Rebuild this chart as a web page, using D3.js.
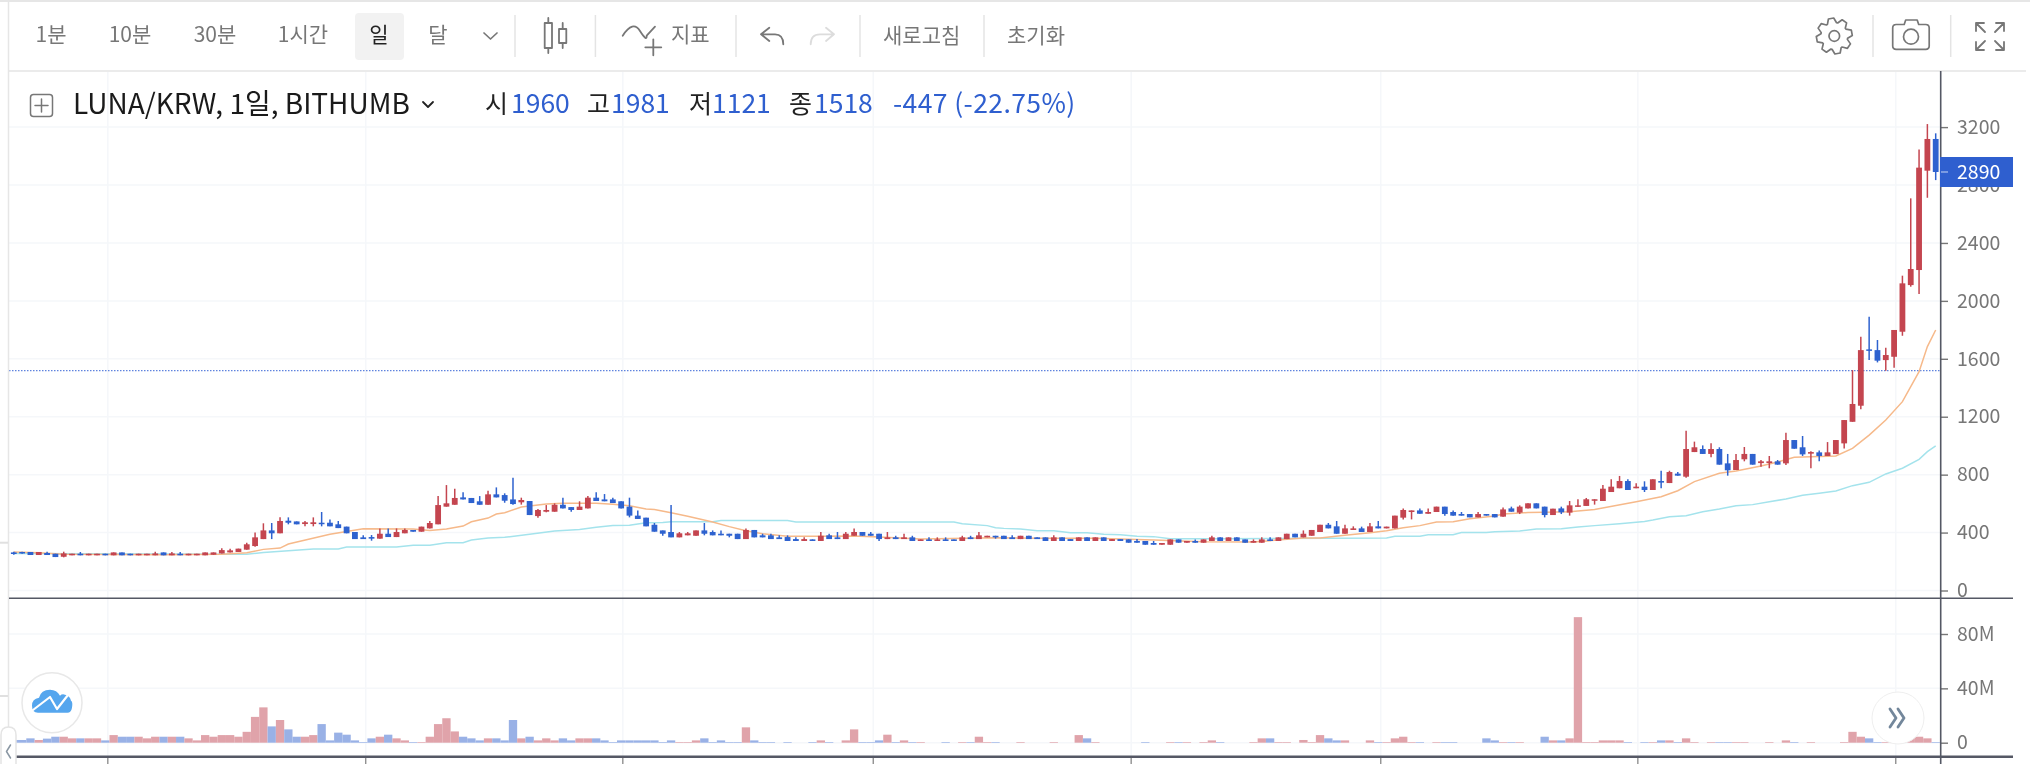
<!DOCTYPE html>
<html>
<head>
<meta charset="utf-8">
<style>
  html, body { margin: 0; padding: 0; background: #fff; overflow: hidden; }
  svg { display: block; font-family: "Noto Sans CJK KR", "Noto Sans", sans-serif; filter: blur(0.4px); }
</style>
<script src="https://cdn.jsdelivr.net/npm/d3@7/dist/d3.min.js"></script>
</head>
<body>
<div id="chart"></div>
<script>
// daily candles
const opens = [263,266,266,245,259,254,233,243,254,243,
  243,254,243,263,254,243,243,243,263,243,
  254,243,243,243,247,256,263,266,282,307,
  355,415,395,482,477,459,459,468,468,457,
  441,404,367,369,358,392,369,395,418,406,
  429,457,579,592,643,639,616,592,664,659,
  629,609,618,514,544,544,592,576,556,567,
  641,629,629,616,579,517,503,454,415,404,
  367,381,378,415,404,392,392,392,355,418,
  381,381,367,369,355,342,353,342,381,367,
  355,378,404,392,392,355,367,355,367,342,
  353,342,353,353,342,367,355,367,378,378,
  367,355,378,367,367,342,367,355,342,367,
  342,367,342,355,353,342,342,328,316,316,
  353,330,342,330,342,367,342,367,353,330,
  330,353,342,355,392,367,378,404,454,443,
  392,418,429,404,443,429,429,503,542,553,
  530,542,579,542,528,528,505,528,528,510,
  567,538,567,602,579,521,567,538,579,584,
  620,618,680,706,756,706,717,694,756,742,
  807,786,956,977,943,977,878,832,906,943,
  880,880,892,878,1039,989,945,954,929,942,
  1016,1165,1276,1665,1660,1591,1614,1787,2109,2213,
  2899,3118];
const highs = [268,268,266,266,268,254,268,254,266,254,
  254,254,263,263,254,254,254,268,263,266,
  266,254,254,263,263,291,289,289,330,401,
  464,466,505,505,477,480,505,542,491,480,
  441,404,381,383,429,429,429,429,418,441,
  480,652,728,703,678,639,652,689,712,671,
  779,641,618,563,590,602,641,576,616,652,
  678,666,641,616,641,553,503,466,415,590,
  404,404,415,466,415,415,392,392,429,418,
  392,392,381,381,367,367,353,404,392,404,
  404,429,404,404,392,404,378,392,378,353,
  367,367,367,353,378,378,404,378,378,378,
  381,378,378,367,367,381,367,355,367,367,
  367,367,355,355,353,355,342,342,328,353,
  353,342,353,353,378,367,367,367,353,353,
  367,367,367,392,392,415,418,454,466,480,
  454,443,441,466,480,441,517,567,553,567,
  567,579,579,553,542,528,542,528,528,574,
  579,588,602,602,579,565,579,618,630,639,
  630,729,768,791,768,740,754,768,827,827,
  818,1104,1028,1002,1016,989,943,943,991,943,
  901,929,901,1090,1039,1067,961,966,1025,1039,
  1177,1522,1753,1891,1730,1677,1799,2174,2708,3046,
  3221,3157];
const lows = [247,254,245,245,245,231,229,243,243,243,
  243,243,243,243,243,243,243,243,243,243,
  243,243,243,243,247,256,263,266,282,302,
  355,355,395,457,457,443,443,443,443,431,
  395,355,355,344,358,369,369,395,406,406,
  429,457,579,592,629,604,592,592,643,606,
  593,593,521,503,540,544,567,544,556,567,
  618,616,604,567,505,494,443,406,378,367,
  367,381,378,381,381,381,367,355,355,367,
  367,355,355,342,342,342,342,342,355,355,
  355,378,378,378,342,355,355,355,342,342,
  342,342,342,342,342,355,355,367,358,355,
  355,355,355,355,342,342,342,342,342,342,
  342,342,342,342,330,330,316,316,316,316,
  330,330,330,330,342,342,342,342,330,330,
  330,342,342,355,367,367,378,404,429,392,
  392,418,404,404,429,429,429,491,491,530,
  530,542,517,517,517,505,505,517,505,510,
  544,528,567,567,505,521,528,517,579,584,
  593,618,680,706,694,706,680,694,706,742,
  793,779,956,943,920,869,793,832,892,869,
  855,844,869,867,979,929,844,892,929,942,
  981,1165,1251,1591,1575,1518,1538,1759,2098,2047,
  2712,2834];
const closes = [252,256,245,266,245,231,256,254,243,254,
  254,243,263,243,243,254,254,256,243,256,
  243,254,254,263,263,279,277,289,319,367,
  415,395,480,468,457,471,471,459,443,431,
  395,355,355,358,392,369,404,418,406,441,
  466,590,602,639,629,604,592,664,643,620,
  597,625,521,556,556,592,567,556,579,641,
  618,616,604,567,517,494,443,406,392,367,
  395,395,415,392,381,381,378,355,418,367,
  367,355,355,342,342,355,342,378,355,355,
  392,404,378,378,355,367,355,367,342,353,
  342,353,342,342,367,355,381,378,367,355,
  355,378,355,355,342,367,342,342,367,342,
  367,342,355,342,330,330,316,316,328,353,
  330,342,330,353,367,342,367,342,330,342,
  353,342,367,392,367,392,418,454,429,392,
  429,429,404,443,429,441,517,556,553,530,
  542,579,528,517,517,505,528,517,505,560,
  544,579,602,567,521,565,540,588,588,630,
  630,703,717,756,694,717,694,768,745,818,
  793,977,989,943,977,869,830,901,943,869,
  892,892,869,1039,979,940,956,929,954,1039,
  1177,1288,1660,1656,1587,1626,1799,2121,2220,2920,
  3118,2890];
// volume in millions
const volumes = [2,2,3.2,2,3,4.4,4.4,3.2,3.2,3.2,
  3.2,1.7,5.6,4.4,4.4,4.4,3.2,4.4,4.4,4.4,
  4.4,3.2,1.7,5.6,4.4,5.6,5.6,4.4,8,19,
  26,12,16.7,9.8,4.4,4.4,5.6,13.7,1.7,7.4,
  5.9,1.7,.5,3.2,4.4,5.9,3.2,1.7,.5,.5,
  4.4,13.7,18,8.3,4.4,3.2,1.7,3.2,3.2,1.7,
  16.7,3.2,4.4,1.7,3.2,1.7,3.2,1.7,3.2,3.2,
  3.2,1.7,.5,1.7,1.7,1.7,1.7,1.7,.5,1.7,
  .5,.5,1.7,3.2,.5,1.7,.5,.5,11.3,1.7,
  .5,.5,0,.5,0,0,.5,1.7,.5,0,
  1.7,9.8,.5,.5,1.7,5.9,.5,1.7,.5,.5,
  0,0,.5,0,.5,.5,4.4,.5,.5,0,
  0,.5,0,0,0,.5,0,0,5.6,3.2,
  .5,0,0,0,0,0,.5,0,0,.5,
  .5,.5,0,.5,1.7,.5,0,0,0,.5,
  3.2,3.2,.5,.5,0,2,.5,5.6,3.2,1.7,
  1.7,0,0,1.7,.5,.5,3.2,4.4,.5,.5,
  0,.5,.5,.5,0,0,0,3.2,1.7,.5,
  .5,.5,0,0,4.4,1.7,1.7,3.2,92.4,.5,
  .5,1.7,1.7,1.7,.5,0,.5,.5,1.7,1.7,
  .5,3.2,.5,0,.5,.5,.5,.5,.5,0,
  0,.5,0,1.7,.5,0,.5,0,0,0,
  .5,8,4.4,3.2,.5,.5,.5,1.7,4.4,4.4,
  3.2,.5];

// moving averages, sampled where the line bends
const maShortDays = [0,3,6,18,25,28,30,32,33,38,42,48,50,52,54,55,57,58,59,61,64,66,70,72,74,76,77,79,81,84,86,88,90,93,97,101,104,109,118,123,130,137,143,149,155,157,160,163,165,167,169,171,173,175,178,179,182,184,187,190,195,198,200,202,205,207,210,212,214,216,219,221,223,225,227,229,230,231];
const maShortVals = [266,261,250,247,250,261,284,293,321,388,427,424,415,424,445,475,500,528,537,576,597,602,602,595,586,563,560,537,512,473,441,413,392,374,374,376,369,355,365,360,360,348,337,335,362,362,381,399,413,434,448,473,475,496,514,528,538,540,544,560,613,648,689,752,809,825,860,887,920,924,929,981,1073,1177,1304,1511,1684,1799];
const maLongDays = [0,27,28,30,33,36,39,40,46,48,50,52,54,55,57,59,62,65,68,70,72,74,76,78,79,84,85,93,94,113,114,117,118,119,121,123,125,127,129,131,133,135,137,139,145,165,166,169,170,173,174,177,178,181,183,186,188,190,193,196,197,199,201,203,205,207,209,211,213,215,217,219,221,223,225,227,229,230,231];
const maLongVals = [256,250,250,263,275,286,286,300,300,312,312,330,330,348,362,367,388,411,422,436,448,450,468,470,475,475,484,484,473,473,461,448,434,429,424,413,413,399,399,388,385,374,372,358,358,362,374,374,385,385,401,401,406,411,425,427,438,448,461,477,487,510,517,544,563,586,593,613,632,657,671,687,724,747,805,844,906,959,998];

const priceTicks = [0,400,800,1200,1600,2000,2400,2800,3200];
const volumeTicks = [0,40,80];
const monthDays = [11.3,42.3,73.2,103.3,134.3,164.3,195.2,226.2];
const lastClose = 1518;
const currentPrice = 2890;

const toolbarLabels = ["1분","10분","30분","1시간","일","달"];
const toolbarCentres = [51,130,215,303,379,438];
const legendKeys = ["시","고","저","종"];
const legendVals = ["1960","1981","1121","1518"];

const WIDTH = 2030;
const HEIGHT = 764;
const RED = "#c4454f", BLUE = "#2e62cf", RED_VOL = "#e0a3aa", BLUE_VOL = "#99b1e6";
const TXT = "#777", LINE = "#555865", GRID = "#f5f7fa";

const svg = d3.select("#chart").append("svg")
  .attr("width", WIDTH)
  .attr("height", HEIGHT);

const x = d3.scaleLinear().domain([0, opens.length - 1]).range([13.8, 1935.7]);
const y = d3.scaleLinear().domain([0, 3200]).range([590.5, 127.1]);
const yVol = d3.scaleLinear().domain([0, 80]).range([742.7, 634]);
const step = x(1) - x(0);

svg.append("defs").append("clipPath").attr("id", "plot")
  .append("rect").attr("x", 9).attr("y", 72).attr("width", 1931).attr("height", 692);

// grid
svg.selectAll(".vgrid").data(monthDays).enter().append("line")
  .attr("x1", d => x(d)).attr("x2", d => x(d))
  .attr("y1", 72).attr("y2", 757)
  .attr("stroke", GRID).attr("stroke-width", 1.5);
svg.selectAll(".hgrid").data(priceTicks).enter().append("line")
  .attr("x1", 9).attr("x2", 1940).attr("y1", d => y(d)).attr("y2", d => y(d))
  .attr("stroke", GRID).attr("stroke-width", 1.5);
svg.selectAll(".hgridv").data(volumeTicks).enter().append("line")
  .attr("x1", 9).attr("x2", 1940).attr("y1", d => yVol(d)).attr("y2", d => yVol(d))
  .attr("stroke", GRID).attr("stroke-width", 1.5);

const plot = svg.append("g").attr("clip-path", "url(#plot)");

// volume
plot.selectAll(".vol").data(volumes).enter().append("rect")
  .attr("x", (d, i) => x(i) - step / 2)
  .attr("width", step)
  .attr("y", d => yVol(d))
  .attr("height", d => yVol(0) - yVol(d))
  .attr("fill", (d, i) => closes[i] >= opens[i] ? RED_VOL : BLUE_VOL);

// last close level
plot.append("line")
  .attr("x1", 9).attr("x2", 1940).attr("y1", y(lastClose)).attr("y2", y(lastClose))
  .attr("stroke", "#5f83de").attr("stroke-width", 1.3).attr("stroke-dasharray", "1.5,1.5");

// moving averages
const maLine = d3.line().x(d => x(d[0])).y(d => y(d[1]));
plot.append("path")
  .attr("d", maLine(d3.zip(maLongDays, maLongVals)))
  .attr("fill", "none").attr("stroke", "#a4e3ec").attr("stroke-width", 1.5);
plot.append("path")
  .attr("d", maLine(d3.zip(maShortDays, maShortVals)))
  .attr("fill", "none").attr("stroke", "#f6b98a").attr("stroke-width", 1.5);

// candles
const candle = plot.selectAll(".candle").data(opens).enter().append("g")
  .attr("fill", (d, i) => closes[i] >= opens[i] ? RED : BLUE)
  .attr("stroke", (d, i) => closes[i] >= opens[i] ? RED : BLUE);
candle.append("line")
  .attr("x1", (d, i) => x(i)).attr("x2", (d, i) => x(i))
  .attr("y1", (d, i) => y(highs[i])).attr("y2", (d, i) => y(lows[i]))
  .attr("stroke-width", 1.5);
candle.append("rect")
  .attr("x", (d, i) => x(i) - 2.9)
  .attr("width", 5.8)
  .attr("y", (d, i) => y(Math.max(opens[i], closes[i])))
  .attr("height", (d, i) => Math.max(1.5, Math.abs(y(opens[i]) - y(closes[i]))))
  .attr("stroke", "none");

// axes
function styleAxis(g) {
  g.select(".domain").remove();
  g.selectAll(".tick line").attr("stroke", "#777").attr("stroke-width", 1.4);
  g.selectAll(".tick text").attr("fill", TXT).attr("font-size", 19.5)
    .attr("font-family", '"Noto Sans CJK KR", "Noto Sans", sans-serif');
}
svg.append("g").attr("transform", "translate(1941,0)")
  .call(d3.axisRight(y).tickValues(priceTicks).tickSize(7).tickPadding(9).tickFormat(d3.format("d")))
  .call(styleAxis);
svg.append("g").attr("transform", "translate(1941,0)")
  .call(d3.axisRight(yVol).tickValues(volumeTicks).tickSize(7).tickPadding(9).tickFormat(d => d ? d + "M" : "0"))
  .call(styleAxis);

// month ticks under the volume pane
svg.selectAll(".mtick").data(monthDays).enter().append("line")
  .attr("x1", d => x(d)).attr("x2", d => x(d))
  .attr("y1", 757).attr("y2", 764)
  .attr("stroke", "#888").attr("stroke-width", 1.3);

// frame
function rule(x1, y1, x2, y2, color, w) {
  svg.append("line").attr("x1", x1).attr("y1", y1).attr("x2", x2).attr("y2", y2)
    .attr("stroke", color).attr("stroke-width", w);
}
rule(0, 1, 2030, 1, "#e6e6e6", 2);
rule(8.5, 0, 8.5, 728, "#e6e6e6", 1.5);
rule(9, 71, 2026, 71, "#e4e4e4", 1.5);
rule(1940.7, 71, 1940.7, 764, LINE, 1.6);
rule(9, 598.3, 2013, 598.3, LINE, 1.4);
rule(9, 756.8, 2013, 756.8, LINE, 2.4);
rule(0, 542.7, 8, 542.7, "#e0e0e0", 2);
rule(0, 696, 8, 696, "#e0e0e0", 2);

// current price tag
svg.append("rect").attr("x", 1940).attr("y", 157).attr("width", 73).attr("height", 30).attr("fill", "#2f5fcf");
rule(1941, y(currentPrice), 1948, y(currentPrice), "#9db4ea", 1.4);
svg.append("text").attr("x", 1957).attr("y", y(currentPrice)).attr("dy", "0.34em")
  .attr("fill", "#fff").attr("font-size", 19.5).text(currentPrice);

// toolbar
svg.append("rect").attr("x", 355).attr("y", 13).attr("width", 49).attr("height", 47).attr("rx", 4).attr("fill", "#f2f2f2");
svg.selectAll(".tb").data(toolbarLabels).enter().append("text")
  .attr("x", (d, i) => toolbarCentres[i]).attr("y", 35).attr("dy", "0.35em")
  .attr("text-anchor", "middle").attr("font-size", 21)
  .attr("fill", d => d === "일" ? "#222" : TXT)
  .text(d => d);
function label(txt, px, py, size, color) {
  return svg.append("text").attr("x", px).attr("y", py).attr("dy", "0.35em")
    .attr("font-size", size).attr("fill", color).text(txt);
}
label("지표", 671, 35, 21, TXT);
label("새로고침", 883, 36, 21, TXT);
label("초기화", 1007, 36, 21, TXT);
[515, 595.4, 736, 860, 984, 1873, 1950.7].forEach(sx => rule(sx, 15, sx, 57, "#e4e4e4", 1.5));

function icon(d, color, w) {
  svg.append("path").attr("d", d).attr("fill", "none").attr("stroke", color)
    .attr("stroke-width", w || 1.7).attr("stroke-linecap", "round").attr("stroke-linejoin", "round");
}
icon("M484 33l6.5 6 6.5-6", "#777");                                   // chevron
icon("M548.3 18v5M548.3 48v5M544.7 23h7.3v25h-7.3zM562.7 23v6M562.7 43v5M559 29h7.3v14h-7.3z", "#777", 1.8); // candles
icon("M622.7 35.700Q633 20 640 31T646.700 35.700L655 26.700M645.300 47.300h16M653.300 39.300v16", "#777", 1.8);   // indicators
icon("M769.300 27.700L761 34.300l8.300 6.700M761 34.300h14q8.300 0 8.300 10", "#777", 1.8);                        // undo
icon("M826 27.700l8 6.600-8 6.700M834 34.300h-14q-9.300 0-9.300 10", "#dcdcdc", 1.8);                            // redo

// gear, built from its teeth
const gear = d3.range(8).flatMap(k => {
  const a = k * Math.PI / 4 - Math.PI / 8;
  return [[a - 0.14, 13.5], [a + 0.06, 18], [a + 0.36, 18], [a + 0.56, 13.5]];
});
icon(d3.lineRadial().angle(d => d[0]).radius(d => d[1]).curve(d3.curveLinearClosed)(gear), "#777", 1.7);
d3.select(svg.node().lastChild).attr("transform", "translate(1834.3,36)");
svg.append("circle").attr("cx", 1834.3).attr("cy", 36).attr("r", 5.3).attr("fill", "none").attr("stroke", "#777").attr("stroke-width", 1.7);
// camera
icon("M1892.700 28q0-3.500 3.500-3.500h8l1.500-4.500h11.500l1.500 4.500h7q3.500 0 3.500 3.500v18q0 3.300-3.500 3.300h-29.500q-3.500 0-3.500-3.300z", "#777", 1.7);
svg.append("circle").attr("cx", 1911).attr("cy", 36.7).attr("r", 7.5).attr("fill", "none").attr("stroke", "#777").attr("stroke-width", 1.7);
// fullscreen
icon("M1976 23h8M1976 23v8M1976 23l9 9M2004 23h-8M2004 23v8M2004 23l-9 9M1976 50h8M1976 50v-8M1976 50l9-9M2004 50h-8M2004 50v-8M2004 50l-9-9", "#777", 1.8);

// legend row
svg.append("rect").attr("x", 30.5).attr("y", 94.5).attr("width", 22).attr("height", 22).attr("rx", 3)
  .attr("fill", "none").attr("stroke", "#777").attr("stroke-width", 1.5);
icon("M35 105.500h13M41.500 99v13", "#777", 1.5);
label("LUNA/KRW, 1일, BITHUMB", 73, 104, 28, "#1a1a1a");
icon("M423 102l5 5 5-5", "#222", 1.8);
const legendKeyX = [485, 587, 689, 789];
const legendValX = [511, 611, 712, 814];
legendKeys.forEach((k, i) => {
  label(k, legendKeyX[i], 104, 25, "#222");
  label(legendVals[i], legendValX[i], 104, 26.5, "#2f5fcf");
});
label("-447 (-22.75%)", 893, 104, 26.5, "#2f5fcf").attr("letter-spacing", 0.4);

// logo button
svg.append("circle").attr("cx", 52).attr("cy", 702.7).attr("r", 30).attr("fill", "#fff").attr("stroke", "#e8e8e8").attr("stroke-width", 1.5);
svg.append("path")
  .attr("d", "M38 712.700q-6 0-6-7t7-8q2-8 11-8q7 0 10 6q2-2 5-1q5 1 6 6q2 1 1 7t-6 5z")
  .attr("fill", "#55a6ee");
icon("M33 710l17-13 7 12 11-14", "#fff", 2.2);

// jump-to-end button
svg.append("circle").attr("cx", 1898).attr("cy", 718).attr("r", 26).attr("fill", "#fff").attr("stroke", "#eee").attr("stroke-width", 1);
icon("M1890 709l6 9-6 9M1898 709l6 9-6 9", "#73879b", 2.8);

// scroll tab, bottom left
svg.append("path").attr("d", "M1 764v-29q0-8 7.500-8t7.500 8v29").attr("fill", "#fff").attr("stroke", "#e4e4e4").attr("stroke-width", 1.5);
icon("M10.500 745l-4 6.500 4 6.500", "#8a97a3", 1.5);
</script>
</body>
</html>
